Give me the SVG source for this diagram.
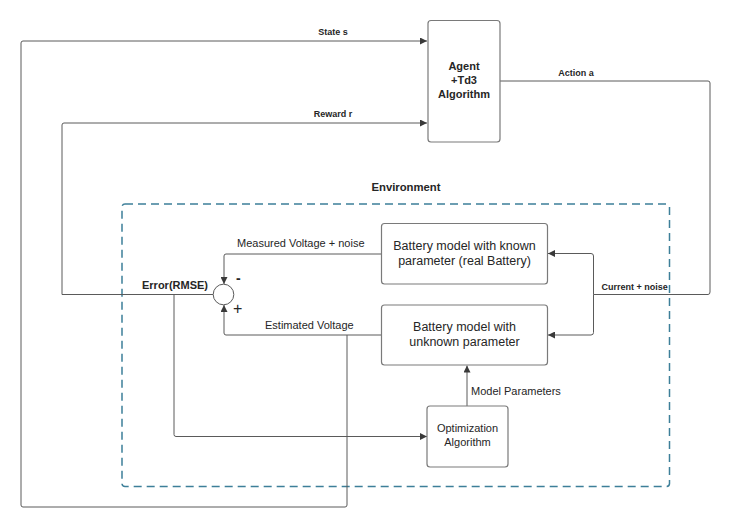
<svg xmlns="http://www.w3.org/2000/svg" width="731" height="528" viewBox="0 0 731 528">
<defs>
<marker id="arr" viewBox="0 0 10 10" refX="10" refY="5" markerWidth="7" markerHeight="7" markerUnits="userSpaceOnUse" orient="auto">
<path d="M0,0 L10,5 L0,10 z" fill="#3a3a3a"/>
</marker>
<style>
.box{fill:#ffffff;stroke:#7a7a7a;stroke-width:1.2}
.ln{fill:none;stroke:#5a5a5a;stroke-width:1}
.env{fill:none;stroke:#3d7f99;stroke-width:1.5;stroke-dasharray:8 5}
text{font-family:"Liberation Sans",Arial,sans-serif;fill:#262626}
.b{font-weight:bold}
.t9{font-size:9px}
.t11{font-size:11px}
.t12{font-size:12.5px}
</style>
</defs>
<rect width="731" height="528" fill="#ffffff"/>

<g id="environment">
<rect class="env" x="122" y="204" width="547.5" height="282.5" rx="3"/>
<text class="b" x="406" y="191" text-anchor="middle" font-size="11.3">Environment</text>
</g>

<g id="connectors">
<path class="ln" d="M347,335 V505 Q347,507 345,507 H23 Q21,507 21,505 V43 Q21,41 23,41 H427" marker-end="url(#arr)"/>
<path class="ln" d="M213,294.5 H62 V125 Q62,123 64,123 H427" marker-end="url(#arr)"/>
<path class="ln" d="M500,81 H708 Q710,81 710,83 V292 Q710,294.5 708,294.5 H593.5"/>
<path class="ln" d="M593.5,294.5 V256 Q593.5,253.5 591,253.5 H548" marker-end="url(#arr)"/>
<path class="ln" d="M593.5,294.5 V332.5 Q593.5,335 591,335 H548" marker-end="url(#arr)"/>
<path class="ln" d="M381,254 H226 Q224,254 224,256 V284" marker-end="url(#arr)"/>
<path class="ln" d="M381,335 H226 Q224,335 224,333 V305" marker-end="url(#arr)"/>
<path class="ln" d="M174,294.5 V434.5 Q174,436.5 176,436.5 H427" marker-end="url(#arr)"/>
<path class="ln" d="M467,406 V365.5" marker-end="url(#arr)"/>
<text class="b t9" x="333" y="35" text-anchor="middle">State s</text>
<text class="b t9" x="333" y="117" text-anchor="middle">Reward r</text>
<text class="b t9" x="576" y="76" text-anchor="middle">Action a</text>
<text class="b t9" x="601.5" y="289.5">Current + noise</text>
<text class="t11" x="237" y="247">Measured Voltage + noise</text>
<text class="t11" x="265" y="329">Estimated Voltage</text>
<text class="t11" x="471" y="394.5">Model Parameters</text>
<text class="b t11" x="142" y="288.5">Error(RMSE)</text>
</g>

<g id="agent">
<rect class="box" x="428" y="20.5" width="72" height="121.5" rx="3"/>
<text class="b t11" x="464" y="69.5" text-anchor="middle">Agent</text>
<text class="b t11" x="464" y="84" text-anchor="middle">+Td3</text>
<text class="b t11" x="464" y="97.5" text-anchor="middle">Algorithm</text>
</g>

<g id="sum">
<circle cx="223.5" cy="294.5" r="10.3" fill="#ffffff" stroke="#5a5a5a" stroke-width="1"/>
<text x="236" y="283" font-size="14" class="b">-</text>
<text x="233" y="314" font-size="16">+</text>
</g>

<g id="battery-known">
<rect class="box" x="381.5" y="223.5" width="166" height="60.5" rx="3"/>
<text class="t12" x="464.5" y="249.5" text-anchor="middle">Battery model with known</text>
<text class="t12" x="464.5" y="264.5" text-anchor="middle">parameter (real Battery)</text>
</g>

<g id="battery-unknown">
<rect class="box" x="381.5" y="305" width="166" height="60" rx="3"/>
<text class="t12" x="464.5" y="330.5" text-anchor="middle">Battery model with</text>
<text class="t12" x="464.5" y="345.5" text-anchor="middle">unknown parameter</text>
</g>

<g id="optimization">
<rect class="box" x="427" y="406" width="81" height="61" rx="3"/>
<text class="t11" x="467.5" y="432" text-anchor="middle">Optimization</text>
<text class="t11" x="467.5" y="445.5" text-anchor="middle">Algorithm</text>
</g>
</svg>
